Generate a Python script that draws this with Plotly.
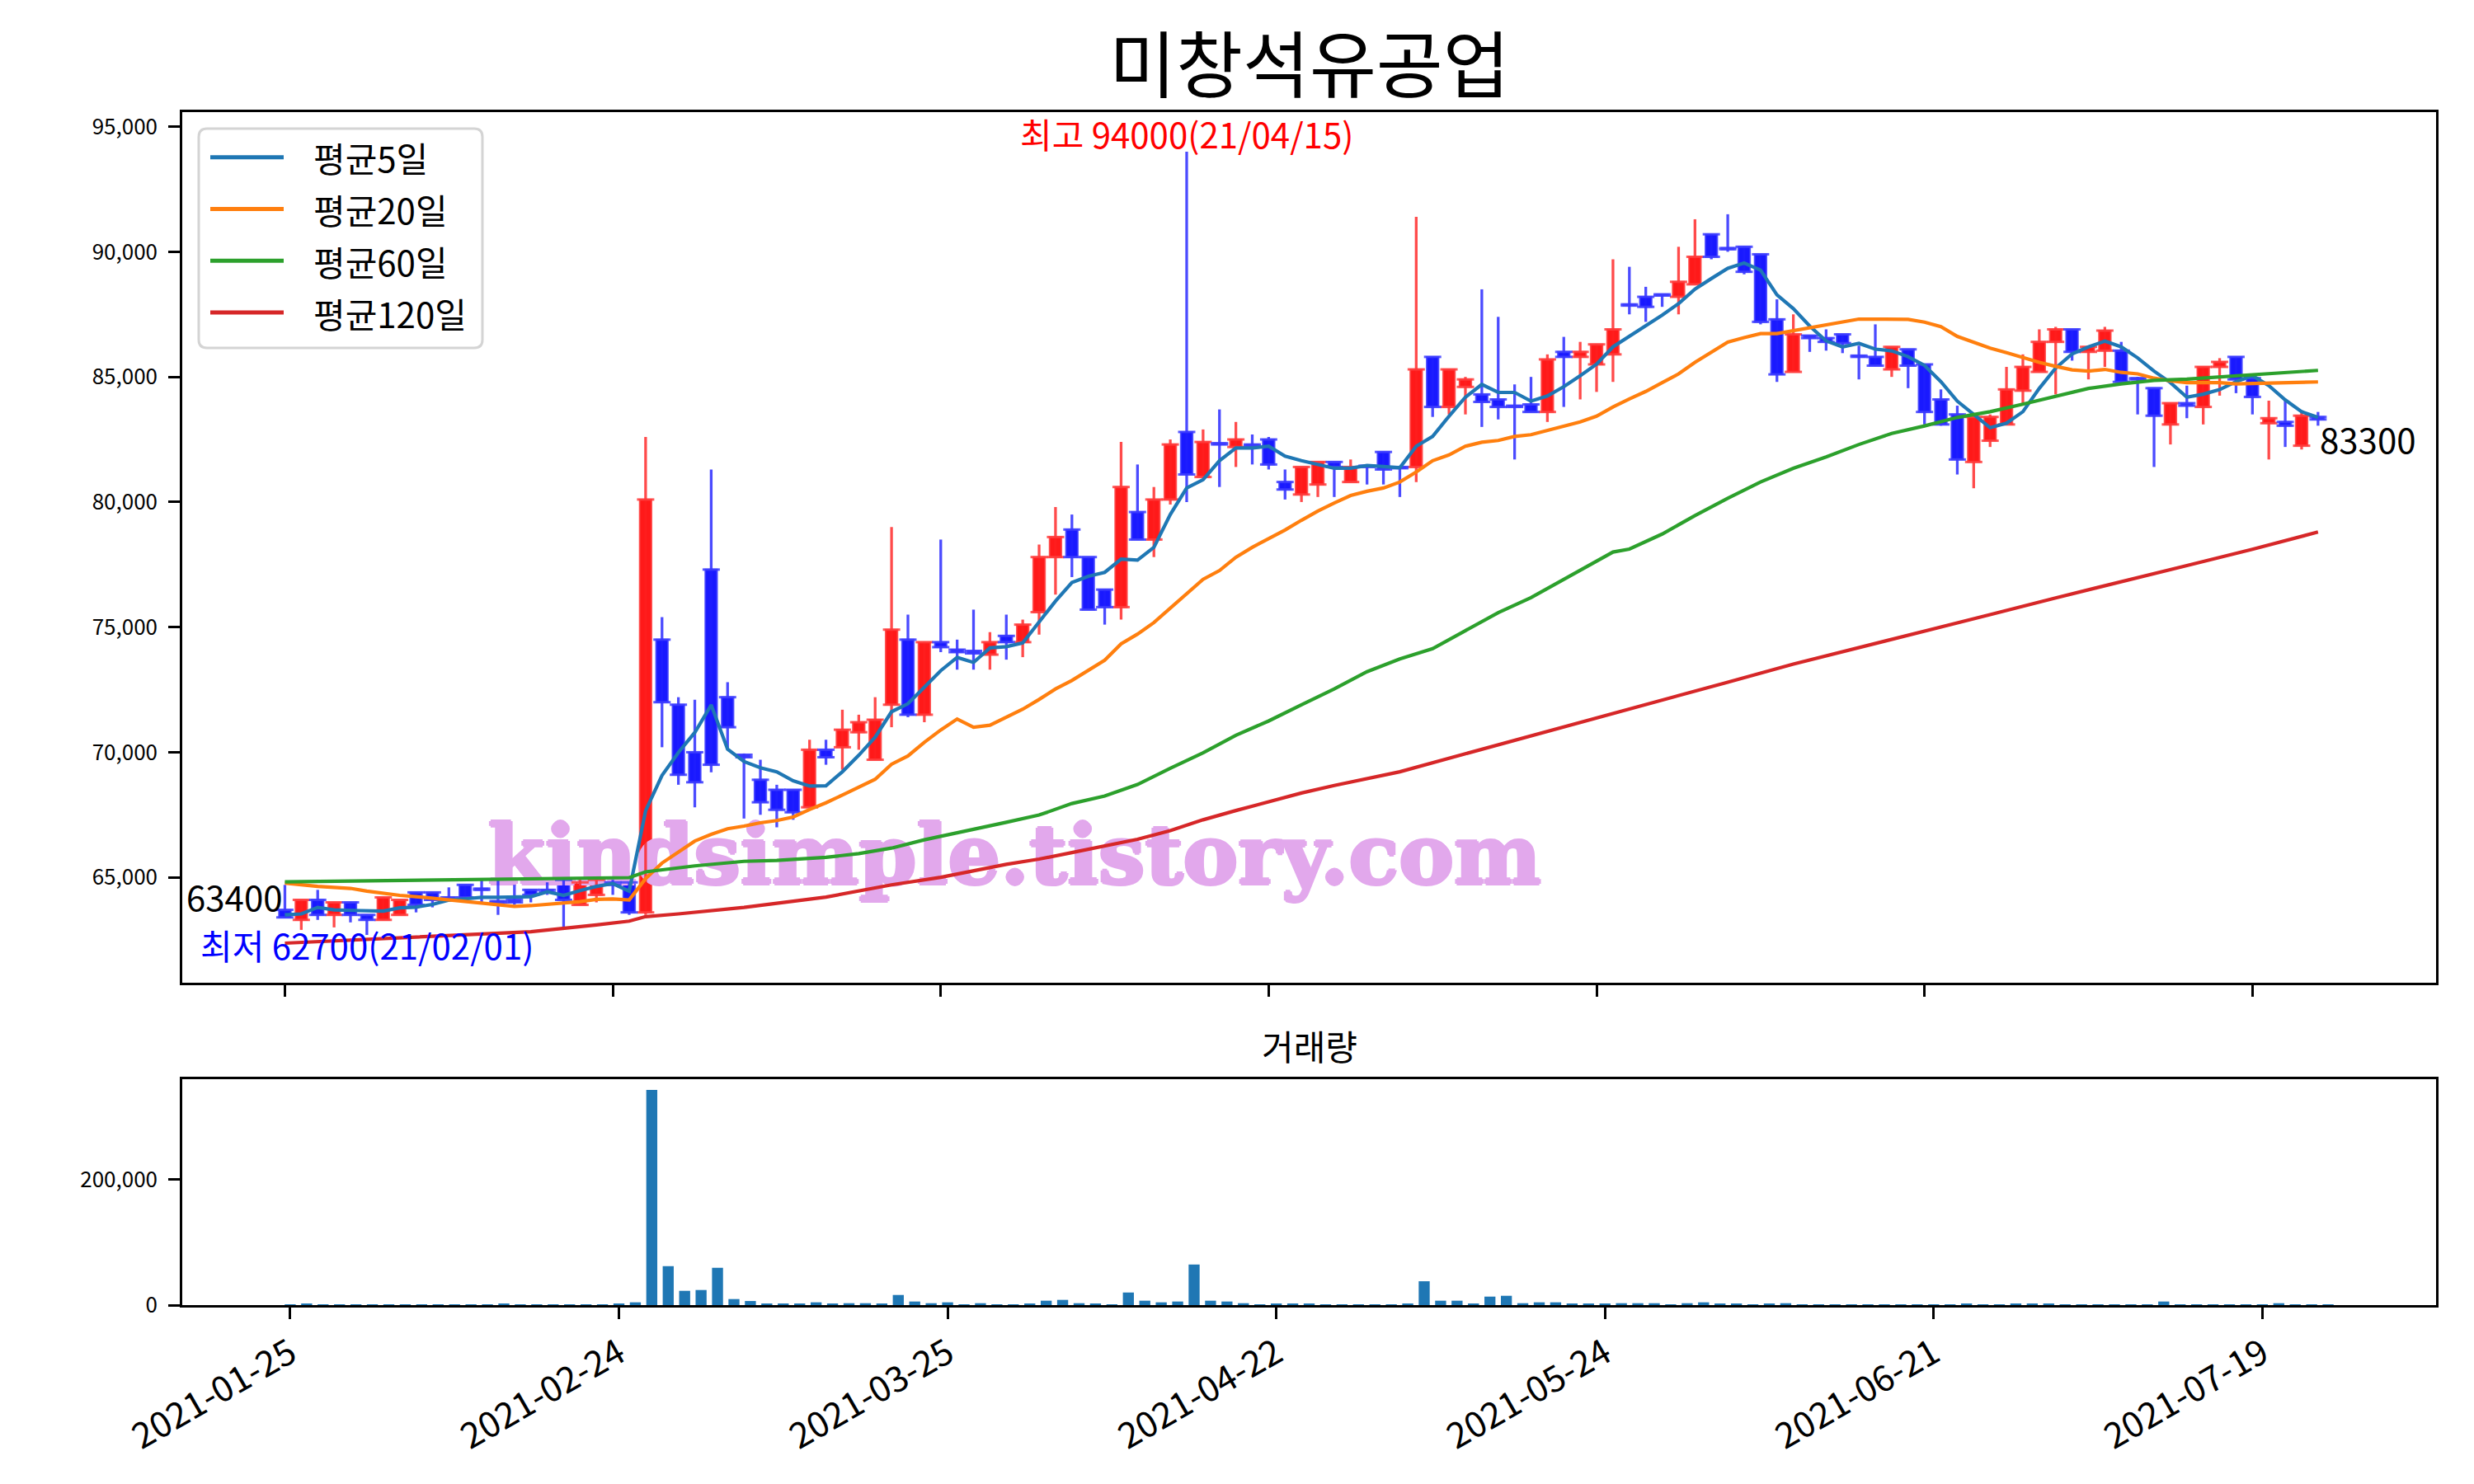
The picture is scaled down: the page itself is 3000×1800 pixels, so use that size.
import plotly.graph_objects as go

title = '미창석유공업'
vol_title = '거래량'
tick_idx = [0, 20, 40, 60, 80, 100, 120]
tick_dates = ['2021-01-25', '2021-02-24', '2021-03-25', '2021-04-22',
              '2021-05-24', '2021-06-21', '2021-07-19']

# daily candles, 2021-01-25 .. 2021-07-23 (trading-day index)
opens = [63700, 63300, 64100, 63500, 64000, 63500, 63300, 63500, 64400, 64400,
         64200, 64700, 64550, 64050, 64100, 64500, 64500, 64900, 63900, 64300,
         64800, 64800, 63600, 74500, 71900, 70000, 77300, 72200, 69900, 68900,
         68500, 68500, 67800, 70100, 70200, 70800, 69700, 71900, 74500, 71500,
         74400, 74100, 74050, 73900, 74650, 74400, 75600, 77800, 78900, 77800,
         76500, 75800, 79600, 78500, 80100, 82800, 81000, 82350, 82200, 82300,
         82500, 80800, 80300, 80700, 81600, 80800, 81450, 82000, 81400, 81400,
         85800, 83800, 84600, 84300, 84100, 83850, 83900, 83600, 86000, 85800,
         85500, 85900, 87900, 88200, 88300, 88200, 88700, 90700, 90150, 90200,
         89900, 87300, 85200, 86650, 86550, 86700, 85850, 85800, 85300, 86100,
         85500, 84100, 83500, 81600, 82450, 83100, 84450, 85200, 86400, 86900,
         86000, 86050, 86050, 84950, 84550, 83100, 83950, 83800, 85400, 85800,
         84950, 83150, 83200, 82250, 83400]
highs = [64700, 64100, 64500, 64000, 64000, 63500, 64200, 64100, 64400, 64400,
         64600, 64700, 64900, 64900, 64700, 64500, 64800, 64900, 64900, 64900,
         64900, 64800, 82600, 75400, 72200, 72100, 81300, 72800, 69950, 69700,
         68700, 68500, 70500, 70500, 71700, 71500, 72200, 79000, 75500, 74400,
         78500, 74500, 75700, 74800, 75500, 75300, 78300, 79800, 79500, 77800,
         76500, 82400, 81500, 80600, 82500, 94000, 82900, 83700, 83200, 82700,
         82600, 81300, 81400, 81600, 81600, 81700, 81450, 82000, 81400, 91400,
         85800, 85300, 85000, 88500, 87400, 84700, 85000, 85900, 86600, 86400,
         86300, 89700, 89400, 88600, 88300, 90200, 91300, 90700, 91500, 90200,
         89900, 88100, 87500, 86650, 86900, 86700, 86250, 87100, 86200, 86100,
         85500, 84500, 83850, 83400, 83500, 85400, 85900, 86900, 87000, 86900,
         86200, 87000, 86400, 85000, 84550, 83950, 84650, 85400, 85750, 85800,
         84950, 84050, 84050, 83600, 83600]
lows = [63400, 62900, 63300, 63000, 63200, 62700, 63300, 63500, 63600, 63800,
        64100, 64200, 64000, 63500, 63900, 64000, 64300, 63000, 63900, 64000,
        64300, 63500, 63500, 70200, 68700, 67800, 69200, 70100, 67350, 67500,
        67000, 67300, 67800, 69500, 69300, 70100, 69700, 71000, 71400, 71200,
        74000, 73300, 73300, 73300, 73700, 73800, 74700, 76300, 77000, 75700,
        75100, 75300, 78500, 77800, 79900, 80000, 81000, 80600, 81400, 81500,
        81300, 80100, 80000, 80200, 80200, 80800, 80700, 80700, 80200, 80800,
        83400, 83500, 83500, 83000, 83300, 81700, 83600, 83200, 83800, 84100,
        84400, 84800, 87500, 87200, 87800, 87500, 88700, 89700, 90000, 89100,
        87100, 84800, 85200, 86000, 86050, 85950, 84900, 85450, 85000, 84550,
        83100, 83050, 81100, 80550, 82200, 83100, 83900, 85200, 84300, 85650,
        84900, 85400, 84800, 83500, 81400, 82300, 83350, 83100, 84250, 84350,
        83500, 81700, 82200, 82100, 83050]
closes = [63400, 64100, 63500, 64000, 63500, 63300, 64200, 64100, 63900, 64100,
          64100, 64200, 64500, 64000, 64000, 64300, 64400, 64100, 64800, 64900,
          64700, 63600, 80100, 72000, 69100, 68800, 69500, 71000, 69800, 68000,
          67700, 67600, 70100, 69800, 70900, 71200, 71300, 74900, 71500, 74400,
          74200, 74000, 73950, 74400, 74400, 75100, 77800, 78600, 77800, 75700,
          75800, 80600, 78500, 80100, 82300, 81100, 82400, 82300, 82500, 82250,
          81500, 80500, 81400, 81600, 81400, 81400, 81400, 81300, 81350, 85300,
          83800, 85300, 84900, 84000, 83800, 83800, 83600, 85700, 85800, 86000,
          86300, 86900, 87850, 87800, 88250, 88800, 89800, 89800, 90100, 89200,
          87200, 85100, 86700, 86550, 86400, 86350, 85800, 85450, 86200, 85450,
          83600, 83100, 81700, 83400, 83400, 84500, 85400, 86400, 86900, 86000,
          86200, 86850, 84800, 84900, 83450, 83950, 83850, 85400, 85600, 84900,
          84200, 83350, 83050, 83450, 83300]
volumes = [500, 1700, 500, 500, 500, 500, 500, 500, 500, 500,
           500, 500, 500, 1700, 500, 500, 500, 500, 500, 500,
           1700, 4400, 342000, 61900, 22700, 24000, 59300, 9600, 6500, 1700,
           1700, 1700, 4400, 1700, 3000, 3000, 1700, 16100, 5700, 3000,
           4400, 500, 3000, 500, 500, 1700, 7000, 8300, 3000, 1700,
           500, 20000, 7000, 4400, 5700, 64500, 7000, 5700, 3000, 500,
           1700, 1700, 1700, 500, 500, 500, 500, 500, 1700, 37900,
           7000, 7000, 1700, 13500, 14800, 3000, 4400, 4400, 1700, 1700,
           1700, 3000, 3000, 3000, 500, 3000, 4400, 1700, 1700, 500,
           1700, 3000, 500, 500, 500, 500, 500, 500, 500, 500,
           500, 500, 1700, 500, 500, 1700, 1700, 1700, 500, 500,
           500, 500, 500, 500, 5700, 500, 500, 500, 500, 500,
           500, 3000, 500, 500, 500]

ma5 = [63500, 63540, 63800, 63700, 63680, 63650, 63650, 63780, 63810, 63920,
       64090, 64140, 64200, 64200, 64200, 64230, 64420, 64280, 64470, 64640,
       64750, 64450, 67660, 69070, 69990, 70790, 71890, 70120, 69630, 69380,
       69220, 68860, 68650, 68660, 69220, 69880, 70600, 71620, 71940, 72580,
       73260, 73790, 73590, 74170, 74220, 74370, 75180, 76040, 76780, 77030,
       77190, 77720, 77680, 78190, 79500, 80560, 80890, 81650, 82160, 82160,
       82230, 81830, 81650, 81490, 81350, 81350, 81460, 81420, 81370, 82230,
       82620, 83430, 84190, 84700, 84380, 84380, 84030, 84240, 84610, 85050,
       85510, 86200, 86620, 87010, 87470, 87930, 88510, 88930, 89340, 89550,
       89270, 88280, 87730, 87030, 86440, 86200, 86340, 86110, 86040, 85810,
       85460, 84810, 84030, 83500, 82970, 83150, 83610, 84540, 85350, 85920,
       86200, 86430, 86200, 85760, 85230, 84770, 84190, 84310, 84490, 84810,
       85050, 84650, 84080, 83610, 83380]
ma20 = [64770, 64690, 64640, 64600, 64560, 64450, 64360, 64280, 64230, 64170,
        64090, 64030, 63980, 63900, 63840, 63870, 63920, 63980, 64030, 64120,
        64140, 64100, 64950, 65570, 66010, 66450, 66720, 66940, 67050, 67180,
        67270, 67410, 67710, 67980, 68290, 68590, 68920, 69520, 69850, 70400,
        70890, 71330, 71000, 71080, 71390, 71720, 72110, 72530, 72870, 73260,
        73680, 74330, 74720, 75180, 75760, 76340, 76910, 77260, 77790, 78190,
        78530, 78880, 79270, 79640, 79960, 80260, 80430, 80560, 80800, 81200,
        81650, 81880, 82230, 82390, 82460, 82620, 82690, 82850, 83040, 83200,
        83430, 83800, 84120, 84420, 84770, 85120, 85580, 85970, 86390, 86570,
        86730, 86730, 86850, 86960, 87100, 87190, 87310, 87310, 87310, 87300,
        87190, 87010, 86620, 86390, 86150, 85970, 85760, 85580, 85420, 85280,
        85230, 85300, 85180, 85120, 84950, 84840, 84770, 84770, 84770, 84720,
        84740, 84760, 84780, 84790, 84800]
ma60_idx = [0, 5, 10, 15, 21, 22, 25, 28, 30, 33, 35, 37, 39, 41, 43, 44, 46, 48,
            50, 52, 54, 56, 58, 60, 62, 64, 66, 68, 70, 72, 74, 76, 78, 80, 81,
            82, 84, 86, 88, 90, 92, 94, 96, 98, 100, 102, 104, 106, 108, 110,
            112, 114, 116, 118, 120, 122, 124]
ma60 = [64820, 64860, 64900, 64950, 64990, 65220, 65460, 65640, 65680, 65800,
        65950, 66170, 66500, 66780, 67050, 67200, 67490, 67950, 68250, 68710,
        69360, 69980, 70680, 71250, 71900, 72530, 73220, 73730, 74140, 74880,
        75580, 76180, 76910, 77610, 78000, 78120, 78720, 79460, 80150, 80800,
        81350, 81800, 82300, 82740, 83040, 83380, 83610, 83910, 84210, 84540,
        84720, 84860, 84910, 85000, 85100, 85180, 85260]
ma120_idx = [0, 5, 10, 15, 19, 21, 22, 24, 28, 33, 37, 40, 44, 46, 48, 50, 52,
             54, 56, 58, 60, 62, 64, 66, 68, 72, 76, 80, 84, 88, 92, 96, 100,
             104, 108, 112, 116, 120, 124]
ma120 = [62370, 62520, 62660, 62830, 63100, 63250, 63430, 63540, 63800, 64210,
         64700, 65000, 65520, 65730, 65990, 66270, 66520, 66870, 67300, 67670,
         68020, 68370, 68670, 68950, 69220, 69940, 70650, 71350, 72080, 72800,
         73520, 74170, 74830, 75500, 76170, 76830, 77460, 78110, 78800]

ma_names = ['평균5일', '평균20일', '평균60일', '평균120일']
ma_colors = ['#1f77b4', '#ff7f0e', '#2ca02c', '#d62728']

FONT = 'Noto Sans CJK KR, Noto Sans, sans-serif'
W, H = 3000, 1800
OFF = 8  # the page body margin shifts the whole figure by this much
idx = list(range(len(closes)))
up = [i for i in idx if closes[i] > opens[i]]
down = [i for i in idx if closes[i] <= opens[i]]


def px(x, y):
    return (x - OFF) / W, 1 - (y - OFF) / H


fig = go.Figure()

# watermark sits under everything
wm = '#e2a8ec'
fig.add_trace(go.Scatter(
    x=[44.5], y=[65570], mode='text', text=['kindsimple.tistory.com'],
    textfont=dict(family='DejaVu Serif', size=100, color=wm, weight='bold',
                  shadow='2px 0 0 %s, -2px 0 0 %s, 0 2px 0 %s, 0 -2px 0 %s' % (wm, wm, wm, wm)),
    showlegend=False, hoverinfo='skip'))


def add_candles(sel, body, edge, wick):
    wx, wy = [], []
    for i in sel:
        wx += [i, i, None]
        wy += [lows[i], highs[i], None]
    fig.add_trace(go.Scatter(x=wx, y=wy, mode='lines', line=dict(color=wick, width=3.3),
                             showlegend=False, hoverinfo='skip'))
    fig.add_trace(go.Bar(
        x=sel, base=[min(opens[i], closes[i]) for i in sel],
        y=[abs(closes[i] - opens[i]) for i in sel], width=0.72,
        marker=dict(color=body, line=dict(color=edge, width=2)),
        showlegend=False, hoverinfo='skip'))
    fig.add_trace(go.Scatter(
        x=sel + sel, y=[opens[i] for i in sel] + [closes[i] for i in sel], mode='markers',
        marker=dict(symbol='line-ew', size=15, line=dict(color=edge, width=3)),
        showlegend=False, hoverinfo='skip'))


add_candles(up, 'rgba(255,0,0,0.9)', 'rgba(255,60,60,0.85)', 'rgba(255,30,30,0.8)')
add_candles(down, 'rgba(0,0,255,0.9)', 'rgba(60,60,255,0.85)', 'rgba(30,30,255,0.8)')

for name, xs, ys, col in zip(ma_names, [idx, idx, ma60_idx, ma120_idx],
                             [ma5, ma20, ma60, ma120], ma_colors):
    fig.add_trace(go.Scatter(x=xs, y=ys, mode='lines', name=name, showlegend=False,
                             line=dict(color=col, width=4.2)))

fig.add_trace(go.Bar(x=idx, y=volumes, width=0.67, marker=dict(color='#1f77b4', line=dict(width=0)),
                     xaxis='x2', yaxis='y2', showlegend=False, hoverinfo='skip'))

lo = min(min(lows), min(ma120))
hi = max(highs)
pad = 0.05 * (hi - lo)

ax = dict(showline=True, mirror=True, linecolor='black', linewidth=2.5, showgrid=False,
          zeroline=False, ticks='outside', ticklen=14, tickwidth=2.5, tickcolor='black',
          automargin=False, tickfont=dict(family=FONT, size=26, color='black'))

hi_i = highs.index(hi)
lo_i = lows.index(min(lows))

# legend box drawn by hand (long line samples like the original)
lx0, ly0, lx1, ly1, r = 241, 156, 585, 422, 10
path = 'M%f,%f' % px(lx0 + r, ly0)
for a, b, c in [((lx1 - r, ly0), (lx1, ly0), (lx1, ly0 + r)),
                ((lx1, ly1 - r), (lx1, ly1), (lx1 - r, ly1)),
                ((lx0 + r, ly1), (lx0, ly1), (lx0, ly1 - r)),
                ((lx0, ly0 + r), (lx0, ly0), (lx0 + r, ly0))]:
    path += ' L%f,%f' % px(*a) + ' Q%f,%f' % px(*b) + ' %f,%f' % px(*c)
path += ' Z'
shapes = [dict(type='path', xref='paper', yref='paper', path=path,
               fillcolor='rgba(255,255,255,0.8)', line=dict(color='#d4d4d4', width=3))]
annotations = []
for k, (name, col) in enumerate(zip(ma_names, ma_colors)):
    yy = 190.7 + 62.8 * k
    (x0p, y0p), (x1p, _) = px(255, yy), px(344, yy)
    shapes.append(dict(type='line', xref='paper', yref='paper', x0=x0p, x1=x1p, y0=y0p, y1=y0p,
                       line=dict(color=col, width=5)))
    annotations.append(dict(text=name, xref='paper', yref='paper', x=px(378, 0)[0], y=y0p,
                            xanchor='left', yanchor='middle', showarrow=False,
                            font=dict(family=FONT, size=42, color='black')))

tx, ty = px(1588, 73)
vx, vy = px(1588, 1267)
annotations += [
    dict(text=title, xref='paper', yref='paper', x=tx, y=ty, xanchor='center', yanchor='middle',
         showarrow=False, font=dict(family=FONT, size=88, color='black')),
    dict(text=vol_title, xref='paper', yref='paper', x=vx, y=vy, xanchor='center',
         yanchor='middle', showarrow=False, font=dict(family=FONT, size=42, color='black')),
    dict(text='최고 %d(21/04/15)' % hi, x=hi_i, y=hi, xref='x', yref='y', yshift=23,
         yanchor='middle', showarrow=False, font=dict(family=FONT, size=42, color='red')),
    dict(text='최저 %d(21/02/01)' % min(lows), x=lo_i, y=min(lows), xref='x', yref='y',
         yshift=-12, yanchor='middle', showarrow=False,
         font=dict(family=FONT, size=42, color='blue')),
    dict(text=str(closes[0]), x=0, y=closes[0], xref='x', yref='y', xanchor='right',
         yanchor='middle', yshift=26, showarrow=False,
         font=dict(family=FONT, size=42, color='black')),
    dict(text=str(closes[-1]), x=idx[-1], y=closes[-1], xref='x', yref='y', xanchor='left',
         yanchor='middle', yshift=-23, showarrow=False,
         font=dict(family=FONT, size=42, color='black')),
]

xl, yt = px(221, 136)
xr, yb = px(2954, 1192)
_, vt = px(0, 1309)
_, vb = px(0, 1583)

fig.update_layout(
    width=W, height=H, margin=dict(l=0, r=0, t=0, b=0, autoexpand=False),
    paper_bgcolor='white', plot_bgcolor='white', barmode='overlay', showlegend=False,
    font=dict(family=FONT, size=42, color='black'),
    xaxis=dict(ax, domain=[xl, xr], range=[-6.26, 131.2], tickvals=tick_idx,
               showticklabels=False, anchor='y'),
    yaxis=dict(ax, domain=[yb, yt], range=[lo - pad, hi + pad], ticklabelstandoff=8,
               tickvals=list(range(65000, 95001, 5000)), tickformat=',d', anchor='x'),
    xaxis2=dict(ax, domain=[xl, xr], range=[-6.57, 130.57], tickvals=tick_idx,
                ticktext=tick_dates, tickangle=-30, anchor='y2',
                tickfont=dict(family=FONT, size=43, color='black')),
    yaxis2=dict(ax, domain=[vb, vt], range=[0, max(volumes) * 1.05], ticklabelstandoff=8,
                tickvals=[0, 200000], tickformat=',d', anchor='x2'),
    shapes=shapes,
    annotations=annotations,
)

fig.write_html('out.html')
